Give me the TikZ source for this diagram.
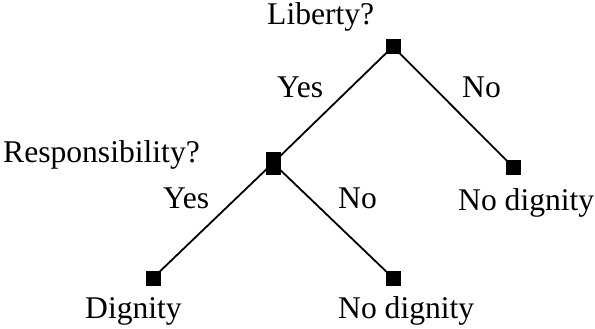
\documentclass[tikz,border=0pt]{standalone}
\usepackage{fontspec}
\setmainfont{Liberation Serif}
\begin{document}
\begin{tikzpicture}[x=1pt,y=-1pt,
  sq/.style={fill=black,inner sep=0pt,minimum width=15pt,minimum height=15pt},
  tallsq/.style={sq,minimum height=23pt},
  lbl/.style={anchor=base west,inner sep=0pt,font=\fontsize{31.6}{37}\selectfont},
  edge/.style={line width=1.8pt}]
\useasboundingbox (0,0) rectangle (595,329);
\node[sq] (top) at (393,46.5) {};
\node[tallsq] (mid) at (273,163) {};
\node[sq] (right) at (513,167) {};
\node[sq] (bl) at (153,278) {};
\node[sq] (br) at (393,278) {};
\draw[edge] (top.center) -- (mid.center);
\draw[edge] (top.center) -- (right.center);
\draw[edge] (mid.center) -- (bl.center);
\draw[edge] (mid.center) -- (br.center);
\node[lbl] (tLib) at (267,25) {Liberty?};
\node[lbl] (tResp) at (3,162) {Responsibility?};
\node[lbl] (tYes1) at (277,98) {Yes};
\node[lbl] (tNo1) at (462,98) {No};
\node[lbl] (tYes2) at (163,208) {Yes};
\node[lbl] (tNo2) at (338,208) {No};
\node[lbl] (tNoDig1) at (458,210) {No dignity};
\node[lbl] (tDig) at (85,318) {Dignity};
\node[lbl] (tNoDig2) at (338,318) {No dignity};
\end{tikzpicture}
\end{document}
